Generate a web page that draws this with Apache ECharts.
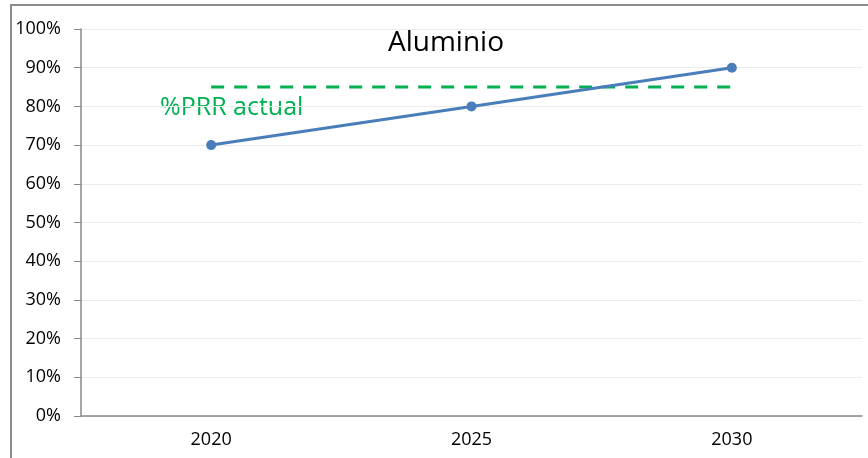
<!DOCTYPE html>
<html><head><meta charset="utf-8">
<script src="https://cdn.jsdelivr.net/npm/echarts@6/dist/echarts.min.js"></script>
<style>html,body{margin:0;padding:0;background:#fff}#c{width:868px;height:458px}
#frame{position:absolute;left:10px;top:4px;width:900px;height:500px;border:2px solid #8c8c8c;box-sizing:border-box;pointer-events:none}</style>
</head><body><div id="c"></div><div id="frame"></div>
<script>
const categories = ['2020', '2025', '2030'];
const aluminio = [70, 80, 90];
const prrActual = [85, 85, 85];
const yTicks = [0, 10, 20, 30, 40, 50, 60, 70, 80, 90, 100];
const font = '"Open Sans", sans-serif';
const chart = echarts.init(document.getElementById('c'));
chart.setOption({
  animation: false,
  title: { text: 'Aluminio', left: 441, top: 24, textAlign: 'center',
    textStyle: { fontFamily: font, fontSize: 28, fontWeight: 'normal', color: '#000' } },
  grid: { left: 81, right: 6, top: 29, bottom: 42 },
  xAxis: { type: 'category', data: categories, boundaryGap: true,
    axisLine: { lineStyle: { color: '#888', width: 1.5 } },
    axisTick: { show: false },
    axisLabel: { fontFamily: font, fontSize: 18, color: '#000', margin: 15 } },
  yAxis: { type: 'value', min: 0, max: 100, interval: 10,
    axisLine: { show: true, lineStyle: { color: '#888', width: 1.5 } },
    axisTick: { show: true, length: 7, lineStyle: { color: '#888' } },
    splitLine: { lineStyle: { color: '#ececec', width: 1 } },
    axisLabel: { fontFamily: font, fontSize: 18, color: '#000', margin: 20,
      formatter: v => yTicks.includes(v) ? v + '%' : '' } },
  series: [
    { type: 'line', data: prrActual, symbol: 'none', z: 2,
      lineStyle: { color: '#00B050', width: 3, type: [13, 10] } },
    { type: 'line', data: aluminio, symbol: 'circle', symbolSize: 10, z: 3,
      itemStyle: { color: '#4A7EBB' },
      lineStyle: { color: '#4A7EBB', width: 3 } }
  ],
  graphic: [
    { type: 'text', left: 160, top: 95,
      style: { text: '%PRR actual', fill: '#00B050', font: '25px ' + font } }
  ]
});
</script></body></html>
